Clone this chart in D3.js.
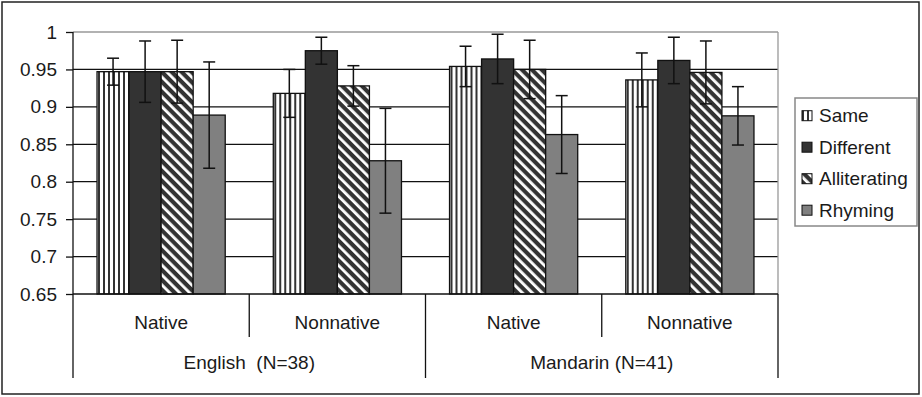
<!DOCTYPE html>
<html><head><meta charset="utf-8">
<script src="https://cdn.jsdelivr.net/npm/d3@7"></script>
<style>body{margin:0;background:#fff}svg{display:block}text{font-family:"Liberation Sans",Arial,sans-serif;fill:#1a1a1a}</style>
</head><body>
<script>
const subgroups = ["Native","Nonnative","Native","Nonnative"];
const languages = ["English  (N=38)","Mandarin (N=41)"];
const series = ["Same","Different","Alliterating","Rhyming"];
const same = [0.947, 0.918, 0.954, 0.936];
const different = [0.947, 0.975, 0.964, 0.962];
const alliterating = [0.947, 0.928, 0.950, 0.946];
const rhyming = [0.889, 0.828, 0.863, 0.888];
const sameErr = [0.018, 0.032, 0.027, 0.036];
const differentErr = [0.041, 0.018, 0.033, 0.031];
const alliteratingErr = [0.042, 0.027, 0.039, 0.042];
const rhymingErr = [0.071, 0.070, 0.052, 0.039];
const yTicks = [0.65,0.7,0.75,0.8,0.85,0.9,0.95,1];

(function(){
const values = [same, different, alliterating, rhyming];
const errs = [sameErr, differentErr, alliteratingErr, rhymingErr];
const fills = ["url(#pSame)","#333333","url(#pAll)","#808080"];
const FS = 19;

const W=922,H=397;
const svg=d3.select("body").append("svg").attr("width",W).attr("height",H);
const defs=svg.append("defs");
const p1=defs.append("pattern").attr("id","pSame").attr("patternUnits","userSpaceOnUse").attr("width",5).attr("height",5);
p1.append("rect").attr("width",5).attr("height",5).attr("fill","#fff");
p1.append("rect").attr("x",0).attr("width",2).attr("height",5).attr("fill","#333");
const p2=defs.append("pattern").attr("id","pAll").attr("patternUnits","userSpaceOnUse").attr("width",7).attr("height",7).attr("patternTransform","rotate(-45)");
p2.append("rect").attr("width",7).attr("height",7).attr("fill","#333");
p2.append("rect").attr("x",0).attr("width",2.8).attr("height",7).attr("fill","#fff");

svg.append("rect").attr("x",2).attr("y",2).attr("width",917).attr("height",392).attr("fill","#fff").attr("stroke","#222").attr("stroke-width",1.5);

const pl=73,pr=778,pt=32,pb=294;
const y=d3.scaleLinear().domain([0.65,1]).range([pb,pt]);
const x0=d3.scaleBand().domain(d3.range(subgroups.length)).range([pl,pr]).paddingInner(0).paddingOuter(0);
const x1=d3.scaleBand().domain(series).range([0,x0.bandwidth()]).paddingInner(0).paddingOuter(0.75);

// gridlines
svg.append("g").selectAll("line").data(yTicks.filter(t=>t>0.65)).join("line")
  .attr("x1",pl).attr("x2",pr).attr("y1",d=>y(d)).attr("y2",d=>y(d))
  .attr("stroke",d=>d===1?"#999":"#111").attr("stroke-width",1.3);
svg.append("line").attr("x1",pr).attr("x2",pr).attr("y1",pt).attr("y2",pb).attr("stroke","#999").attr("stroke-width",1.3);

// bars
const gs=svg.append("g").selectAll("g").data(d3.range(subgroups.length)).join("g").attr("transform",i=>`translate(${x0(i)},0)`);
gs.selectAll("rect").data(i=>series.map((s,k)=>({s,k,v:values[k][i]}))).join("rect")
  .attr("x",d=>x1(d.s)).attr("width",x1.bandwidth()).attr("y",d=>y(d.v)).attr("height",d=>pb-y(d.v))
  .attr("fill",d=>fills[d.k]).attr("stroke","#111").attr("stroke-width",1.3);
// error bars
const eb=gs.selectAll("g.err").data(i=>series.map((s,k)=>({s,k,v:values[k][i],e:errs[k][i]}))).join("g").attr("class","err");
eb.append("line").attr("x1",d=>x1(d.s)+x1.bandwidth()/2).attr("x2",d=>x1(d.s)+x1.bandwidth()/2)
  .attr("y1",d=>y(d.v+d.e)).attr("y2",d=>y(d.v-d.e)).attr("stroke","#111").attr("stroke-width",1.5);
[1,-1].forEach(sg=>{
  eb.append("line").attr("x1",d=>x1(d.s)+x1.bandwidth()/2-6).attr("x2",d=>x1(d.s)+x1.bandwidth()/2+6)
    .attr("y1",d=>y(d.v+sg*d.e)).attr("y2",d=>y(d.v+sg*d.e)).attr("stroke","#111").attr("stroke-width",1.5);
});

// y axis
const ya=svg.append("g").attr("transform",`translate(${pl},0)`).call(d3.axisLeft(y).tickValues(yTicks).tickSize(7).tickPadding(9).tickFormat(d3.format("~g")));
ya.select(".domain").remove();
ya.selectAll("line").attr("stroke","#111").attr("stroke-width",1.3);
ya.selectAll("text").attr("font-size",FS).attr("fill","#1a1a1a").attr("font-family","Liberation Sans, Arial, sans-serif");
svg.append("line").attr("x1",pl).attr("x2",pl).attr("y1",pt).attr("y2",378).attr("stroke","#111").attr("stroke-width",1.3);
svg.append("line").attr("x1",pl).attr("x2",pr).attr("y1",pb).attr("y2",pb).attr("stroke","#111").attr("stroke-width",1.3);

// category axis separators
d3.range(1,subgroups.length+1).forEach(i=>{
  const xx=i<subgroups.length?x0(i):pr;
  const long=(i%2===0);
  svg.append("line").attr("x1",xx).attr("x2",xx).attr("y1",pb).attr("y2",long?378:337).attr("stroke","#111").attr("stroke-width",1.3);
});
svg.append("g").selectAll("text").data(d3.range(subgroups.length)).join("text")
  .attr("x",i=>x0(i)+x0.bandwidth()/2).attr("y",329).attr("text-anchor","middle").attr("font-size",FS).text(i=>subgroups[i]);
svg.append("g").selectAll("text").data(languages).join("text")
  .attr("x",(d,j)=>x0(2*j)+x0.bandwidth()).attr("y",369).attr("text-anchor","middle").attr("font-size",FS)
  .style("white-space","pre").text(d=>d);

// legend
const lg=svg.append("g");
lg.append("rect").attr("x",795).attr("y",98).attr("width",122).attr("height",128).attr("fill","#fff").attr("stroke","#888").attr("stroke-width",1.5);
const li=lg.selectAll("g").data(series).join("g").attr("transform",(d,k)=>`translate(802,${115.7+k*31.5})`);
li.append("rect").attr("x",0).attr("y",-5).attr("width",10).attr("height",10).attr("fill",(d,k)=>fills[k]).attr("stroke","#111").attr("stroke-width",1);
li.append("text").attr("x",17).attr("y",6.5).attr("font-size",FS).text(d=>d);
})();
</script>
</body></html>
